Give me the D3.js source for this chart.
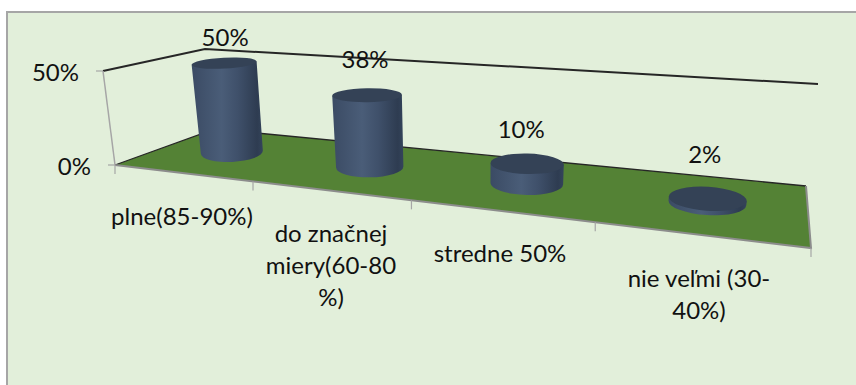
<!DOCTYPE html>
<html>
<head>
<meta charset="utf-8">
<script src="https://cdnjs.cloudflare.com/ajax/libs/d3/7.9.0/d3.min.js"></script>
<style>
  html, body { margin: 0; padding: 0; background: #fff; }
  svg { display: block; }
  text { font-family: Lato, "Open Sans", sans-serif; font-size: 24px; fill: #111; }
</style>
</head>
<body>
<svg id="chart" width="856" height="385"></svg>
<script>
// Survey shares per answer category
const categories = ["plne(85-90%)", "do značnej miery(60-80 %)", "stredne 50%", "nie veľmi (30-40%)"];
const categoryLines = [["plne(85-90%)"], ["do značnej", "miery(60-80", "%)"], ["stredne 50%"], ["nie veľmi (30-", "40%)"]];
const shares = [50, 38, 10, 2];
const axisTicks = [0, 50];

const svg = d3.select("#chart");
const W = 856, H = 385;

// Chart area panel
svg.append("rect").attr("width", W).attr("height", H).attr("fill", "#fff");
svg.append("rect").attr("x", 7).attr("y", 12).attr("width", W - 7).attr("height", H - 12)
  .attr("fill", "#e2efda");
svg.append("path").attr("d", `M7,${H} V12 H${W}`).attr("fill", "none")
  .attr("stroke", "#a6a6a6").attr("stroke-width", 2);

// Floor corners on screen: front-left, front-right, back-right, back-left
const corners = [[115, 165], [811, 248], [806, 186], [215, 129]];
// Upper rim of the back wall: front-left, back-left, back-right
const wallRim = [[103, 71], [205, 49], [818, 84]];

// Projective map from the unit square (u along categories, v into depth) to the screen
function solveHomography(q) {
  const [[x0, y0], [x1, y1], [x2, y2], [x3, y3]] = q;
  const dx1 = x1 - x2, dx2 = x3 - x2, sx = x0 - x1 + x2 - x3;
  const dy1 = y1 - y2, dy2 = y3 - y2, sy = y0 - y1 + y2 - y3;
  const det = dx1 * dy2 - dx2 * dy1;
  const g = (sx * dy2 - dx2 * sy) / det;
  const h = (dx1 * sy - sx * dy1) / det;
  return (u, v) => {
    const w = g * u + h * v + 1;
    return [
      ((x1 - x0 + g * x1) * u + (x3 - x0 + h * x3) * v + x0) / w,
      ((y1 - y0 + g * y1) * u + (y3 - y0 + h * y3) * v + y0) / w
    ];
  };
}
const floorAt = solveHomography(corners);

// Category position along the floor, share converted to a height in unit space
const uScale = d3.scaleBand().domain(d3.range(categories.length)).range([0, 1]);
const pxPerPct = d3.scaleLinear().domain([0, 1]).range([1.86, 2.28]);
const depthLoss = 0.26;
const vanishX = 475, lean = 0.000356;

// Lift a floor point by a share, leaning toward the vertical vanishing point
function lift(u, v, value) {
  const [x, y] = floorAt(u, v);
  const dy = value * (pxPerPct(u) - depthLoss * v);
  return [x + (x - vanishX) * lean * dy, y - dy];
}

const rxAt = d3.scaleLinear().domain([0, 1]).range([29.7, 40.3]);
const ryAt = d3.scaleLinear().domain([65, 200]).range([5.5, 12]);
const tiltAt = d3.scaleLinear().domain([0.125, 0.875]).range([-3, 3.5]);

// Floor
const floorPts = [[0, 0], [1, 0], [1, 1], [0, 1]].map(d => floorAt(d[0], d[1]));
svg.append("path").attr("d", d3.line()(floorPts) + "Z").attr("fill", "#548235");

// Back wall outline and floor edges
const line = d3.line();
svg.append("path").attr("d", line(wallRim)).attr("fill", "none")
  .attr("stroke", "#262626").attr("stroke-width", 2);
svg.append("path").attr("d", line([floorAt(0, 0), floorAt(0, 1), floorAt(1, 1)])).attr("fill", "none")
  .attr("stroke", "#262626").attr("stroke-width", 1.3);
svg.append("path").attr("d", line([floorAt(0, 0), wallRim[0]])).attr("fill", "none")
  .attr("stroke", "#a6a6a6").attr("stroke-width", 1.5);
svg.append("path").attr("d", line([floorAt(1, 1), floorAt(1, 0), floorAt(0, 0)])).attr("fill", "none")
  .attr("stroke", "#8c8c8c").attr("stroke-width", 2);

// Value axis ticks and labels
const axisY = d3.scaleLinear().domain(axisTicks).range([floorAt(0, 0)[1], wallRim[0][1]]);
const axisX = d3.scaleLinear().domain(axisTicks).range([floorAt(0, 0)[0], wallRim[0][0]]);
axisTicks.forEach(t => {
  const x = axisX(t), y = axisY(t);
  svg.append("path").attr("d", line([[x - 7, y], [x, y]])).attr("stroke", "#a6a6a6").attr("stroke-width", 1.2);
  svg.append("text").attr("x", x - 24).attr("y", y + 9.5).attr("text-anchor", "end").text(t + "%");
});

// Category ticks along the front edge
d3.range(categories.length + 1).forEach(i => {
  const [x, y] = floorAt(i / categories.length, 0);
  svg.append("path").attr("d", line([[x, y], [x, y + 9]])).attr("stroke", "#a6a6a6").attr("stroke-width", 1.2);
});

// Horizontal shading on the cylinder walls and a darker lid
const defs = svg.append("defs");
const side = defs.append("linearGradient").attr("id", "cylSide");
[[0, "#3b4b64"], [0.42, "#4a5d78"], [0.65, "#3f506a"], [0.92, "#2e3c51"], [1, "#34445b"]]
  .forEach(([o, c]) => side.append("stop").attr("offset", o).attr("stop-color", c));

// Offset of each value label from the lid centre
const valueLabelDx = [1, -2, -6, -3];
const valueLabelDy = [-17, -27, -26, -36];

const cylinders = svg.append("g").selectAll("g").data(shares).join("g");
cylinders.each(function (value, i) {
  const g = d3.select(this);
  const u = uScale(i) + uScale.bandwidth() / 2, v = 0.5;
  const base = floorAt(u, v), top = lift(u, v, value);
  const rx = rxAt(u), ryB = ryAt(base[1]), ryT = ryAt(top[1]);
  const rxTop = rx + (value / 50) * 1.5;
  const a = tiltAt(u), rad = a * Math.PI / 180;
  const cos = Math.cos(rad) , sin = Math.sin(rad);
  const bl = [base[0] - rx * cos, base[1] - rx * sin], br = [base[0] + rx * cos, base[1] + rx * sin];
  const tl = [top[0] - rxTop * cos, top[1] - rxTop * sin], tr = [top[0] + rxTop * cos, top[1] + rxTop * sin];
  g.append("path")
    .attr("d", `M${tl} L${bl} A${rx},${ryB} ${a} 0 0 ${br} L${tr} Z`)
    .attr("fill", "url(#cylSide)");
  g.append("ellipse")
    .attr("rx", rxTop).attr("ry", ryT)
    .attr("transform", `translate(${top}) rotate(${a})`)
    .attr("fill", "#344256");
  // Value label above the cylinder
  g.append("text").attr("x", top[0] + valueLabelDx[i]).attr("y", top[1] + valueLabelDy[i])
    .attr("text-anchor", "middle").text(value + "%");
});

// Category labels, wrapped over several lines
const labelPos = [[182, 225], [331, 242], [500, 262], [699, 287]];
categoryLines.forEach((lines, i) => {
  const t = svg.append("text").attr("text-anchor", "middle");
  lines.forEach((s, j) => t.append("tspan").attr("x", labelPos[i][0]).attr("y", labelPos[i][1] + j * 32).text(s));
});
</script>
</body>
</html>
